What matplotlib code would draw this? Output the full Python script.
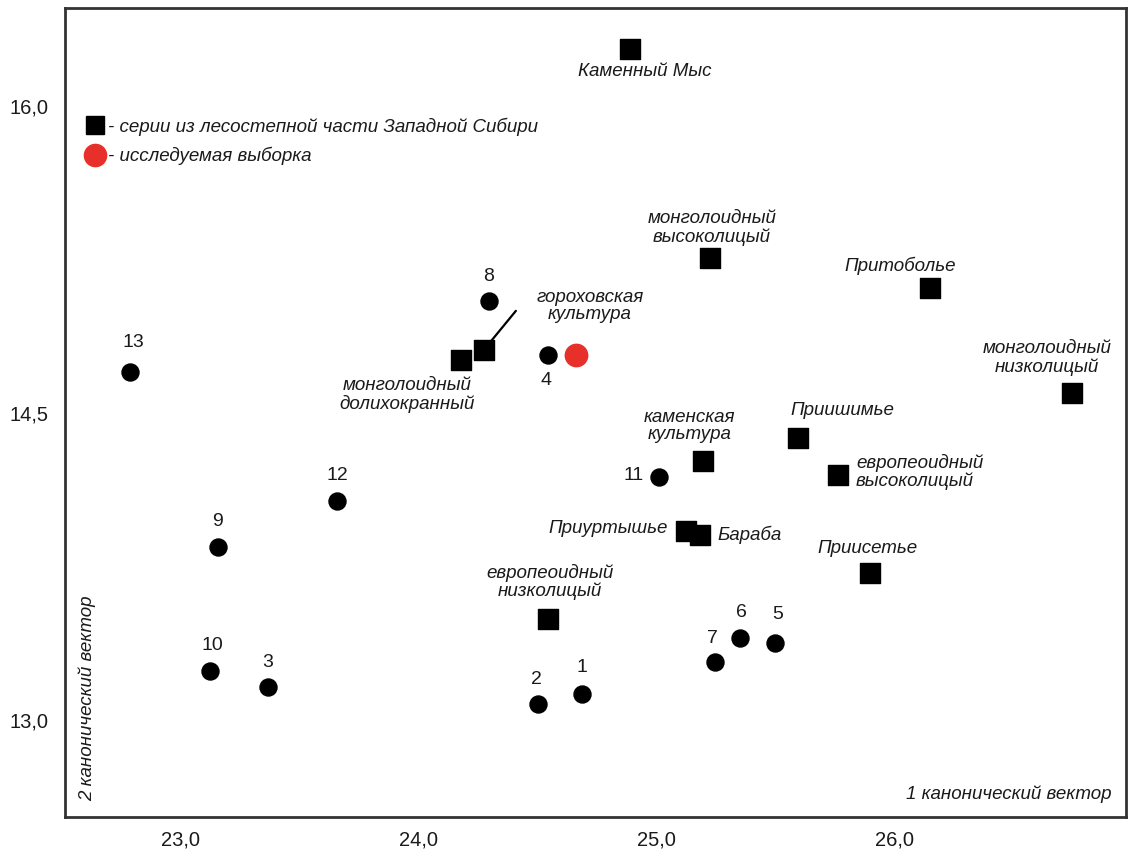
import matplotlib
matplotlib.use('Agg')
import matplotlib.pyplot as plt
from matplotlib.lines import Line2D

# series from the forest-steppe of Western Siberia (squares)
series_names = [
    'Каменный Мыс', 'монголоидный\nвысоколицый', 'Притоболье',
    'гороховская\nкультура', 'монголоидный\nдолихокранный',
    'монголоидный\nнизколицый', 'Приишимье', 'каменская\nкультура',
    'европеоидный\nвысоколицый', 'Приуртышье', 'Бараба', 'Приисетье',
    'европеоидный\nнизколицый',
]
series_x = [24.889, 25.225, 26.149, 24.275, 24.178, 26.746, 25.594,
            25.195, 25.763, 25.124, 25.183, 25.897, 24.544]
series_y = [16.278, 15.257, 15.110, 14.808, 14.759, 14.597, 14.378,
            14.265, 14.197, 13.923, 13.904, 13.718, 13.493]

# numbered comparison samples (black circles)
sample_ids = ['13', '8', '4', '12', '9', '11', '10', '3', '2', '1', '7', '6', '5']
sample_x = [22.788, 24.296, 24.544, 23.658, 23.158, 25.010, 23.124,
            23.368, 24.502, 24.687, 25.246, 25.351, 25.498]
sample_y = [14.700, 15.047, 14.783, 14.070, 13.845, 14.187, 13.239,
            13.161, 13.078, 13.127, 13.283, 13.401, 13.376]

# studied sample (red)
study_x = [24.662]
study_y = [14.783]

x_ticks = [23.0, 24.0, 25.0, 26.0]
y_ticks = [13.0, 14.5, 16.0]

# label offsets in pixels (dx, dy up) and alignment
series_layout = [
    (15, -23, 'center'), (2, 30, 'center'), (-30, 22, 'center'),
    (106, 44, 'center'), (-54, -35, 'center'), (-25, 35, 'center'),
    (45, 27, 'center'), (-13, 35, 'center'), (18, 3, 'left'),
    (-18, 3, 'right'), (17, 0, 'left'), (-2, 24, 'center'),
    (2, 37, 'center'),
]
sample_layout = [
    (3, 29), (0, 24), (-2, -26), (0, 25), (-1, 25), (-25, 1), (2, 26),
    (0, 25), (-1, 25), (0, 26), (-3, 24), (1, 25), (3, 28),
]

PT = 0.72  # px -> points at dpi 100
FAMILY = ['Liberation Sans', 'DejaVu Sans']
label_font = dict(family=FAMILY, style='italic', fontsize=13.5,
                  color='#1a1a1a')
num_font = dict(family=FAMILY, fontsize=14, color='#1a1a1a')

fig = plt.figure(figsize=(11.28, 8.49), dpi=100)
ax = fig.add_axes([65 / 1128, 32 / 849, 1061 / 1128, 809 / 849])

ax.scatter(sample_x, sample_y, s=150, marker='o', color='black', zorder=3)
ax.scatter(series_x, series_y, s=200, marker='s', color='black', zorder=3)
ax.scatter(study_x, study_y, s=260, marker='o', color='#e8302a', zorder=3)

for name, x, y, (dx, dy, ha) in zip(series_names, series_x, series_y,
                                    series_layout):
    ax.annotate(name, (x, y), xytext=(dx * PT, dy * PT),
                textcoords='offset points', ha=ha, va='center',
                linespacing=1.05, **label_font)

# leader line for гороховская культура
gi = 3
ax.annotate('', (series_x[gi], series_y[gi]), xytext=(32 * PT, 39 * PT),
            textcoords='offset points',
            arrowprops=dict(arrowstyle='-', color='black', lw=1.6,
                            shrinkA=0, shrinkB=6))

for sid, x, y, (dx, dy) in zip(sample_ids, sample_x, sample_y, sample_layout):
    ax.annotate(sid, (x, y), xytext=(dx * PT, dy * PT),
                textcoords='offset points', ha='center', va='center',
                **num_font)

ax.set_xlim(22.515, 26.973)
ax.set_ylim(12.526, 16.478)
ax.set_xticks(x_ticks)
ax.set_yticks(y_ticks)
ax.set_xticklabels([f'{v:.1f}'.replace('.', ',') for v in x_ticks])
ax.set_yticklabels([f'{v:.1f}'.replace('.', ',') for v in y_ticks])
ax.tick_params(length=0, labelsize=14.5, pad=12, labelcolor='#1a1a1a')
for lab in ax.get_xticklabels() + ax.get_yticklabels():
    lab.set_family(FAMILY)
ax.tick_params(axis='x', pad=10)
for sp in ax.spines.values():
    sp.set_linewidth(2)
    sp.set_color('#333333')

ax.text(0.986, 0.028, '1 канонический вектор', transform=ax.transAxes,
        ha='right', va='center', **label_font)
ax.text(0.021, 0.02, '2 канонический вектор', transform=ax.transAxes,
        ha='center', va='bottom', rotation=90, **label_font)

handles = [
    Line2D([], [], marker='s', color='black', ls='none', markersize=13),
    Line2D([], [], marker='o', color='#e8302a', ls='none', markersize=16),
]
leg = ax.legend(handles, ['- серии из лесостепной части Западной Сибири',
                          '- исследуемая выборка'],
                loc='upper left', bbox_to_anchor=(0.011, 0.874),
                frameon=False, handletextpad=0.05, handlelength=1.2,
                labelspacing=0.6, borderaxespad=0,
                prop=dict(family=FAMILY, style='italic', size=13.5))
for t in leg.get_texts():
    t.set_color('#1a1a1a')

fig.savefig('out.png', dpi=100)
